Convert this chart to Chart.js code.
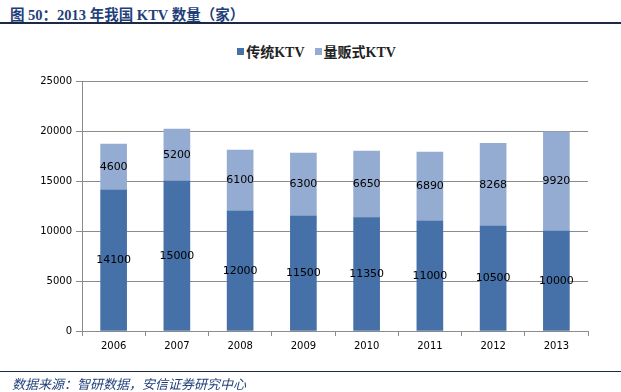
<!DOCTYPE html>
<html>
<head>
<meta charset="utf-8">
<script src="https://cdn.jsdelivr.net/npm/chart.js@4/dist/chart.umd.min.js"></script>
<style>
  html, body { margin: 0; padding: 0; background: #fff; }
  #wrap { position: relative; width: 621px; height: 392px; overflow: hidden; }
  #title { position: absolute; left: 10px; top: 3px; font: bold 14.5px "Liberation Serif", "Noto Sans CJK SC", serif; color: #1F3F7A; white-space: nowrap; }
  .rule { position: absolute; left: 0; width: 621px; height: 2px; background: #1B2A44; }
  #legend { position: absolute; top: 41px; left: 6px; width: 621px; text-align: center; font: bold 14px "Liberation Serif", "Noto Sans CJK SC", serif; color: #222; }
  #legend span.item { display: inline-block; margin: 0 5px; }
  #legend i { display: inline-block; width: 7px; height: 7px; margin-right: 2px; vertical-align: 2px; }
  #source { position: absolute; left: 12px; top: 374px; font: italic 13px "Liberation Serif", "Noto Sans CJK SC", serif; color: #1F3F7A; white-space: nowrap; }
  canvas { position: absolute; left: 0; top: 0; }
</style>
</head>
<body>
<div id="wrap">
  <div id="title">图 50：2013 年我国 KTV 数量（家）</div>
  <div class="rule" style="top:22px"></div>
  <div id="legend"></div>
  <canvas id="chart" width="621" height="392"></canvas>
  <div class="rule" style="top:371px;height:1px"></div>
  <div id="source">数据来源：智研数据，安信证券研究中心</div>
</div>
<script>
// categories and series
const years = ['2006', '2007', '2008', '2009', '2010', '2011', '2012', '2013'];
const traditional = [14100, 15000, 12000, 11500, 11350, 11000, 10500, 10000];
const volumeStore = [4600, 5200, 6100, 6300, 6650, 6890, 8268, 9920];
const seriesNames = ['传统KTV', '量贩式KTV'];
const seriesColors = ['#4570A8', '#95ACD2'];
const yTicks = [0, 5000, 10000, 15000, 20000, 25000];

// legend in html
document.getElementById('legend').innerHTML = seriesNames.map((n, i) =>
    `<span class="item"><i style="background:${seriesColors[i]}"></i>${n}</span>`).join('');

// labels in the middle of each segment
const segmentLabels = {
    id: 'segmentLabels',
    afterDatasetsDraw(chart) {
        const ctx = chart.ctx;
        ctx.save();
        ctx.font = '11px "DejaVu Sans", sans-serif';
        ctx.fillStyle = '#000';
        ctx.textAlign = 'center';
        ctx.textBaseline = 'middle';
        chart.data.datasets.forEach((ds, di) => {
            chart.getDatasetMeta(di).data.forEach((bar, i) => {
                const p = bar.getProps(['x', 'y', 'base'], true);
                ctx.fillText(String(ds.data[i]), p.x, (p.y + p.base) / 2);
            });
        });
        ctx.restore();
    }
};

const axisGrey = '#8C8C8C';

new Chart(document.getElementById('chart').getContext('2d'), {
    type: 'bar',
    data: {
        labels: years,
        datasets: [
            { label: seriesNames[0], data: traditional, backgroundColor: seriesColors[0], barThickness: 26 },
            { label: seriesNames[1], data: volumeStore, backgroundColor: seriesColors[1], barThickness: 26 }
        ]
    },
    options: {
        responsive: false,
        animation: false,
        layout: { padding: { top: 81, right: 33, left: 0, bottom: 0 } },
        scales: {
            x: {
                stacked: true,
                afterFit: s => { s.height = 61; },
                grid: { drawOnChartArea: false, drawTicks: true, offset: true, tickLength: 5, color: axisGrey },
                border: { color: axisGrey },
                ticks: { color: '#000', padding: 4, font: { family: '"DejaVu Sans", sans-serif', size: 10 } }
            },
            y: {
                stacked: true,
                min: 0, max: 25000,
                afterFit: s => { s.width = 82; },
                afterBuildTicks: s => { s.ticks = yTicks.map(v => ({ value: v })); },
                grid: { color: axisGrey, tickLength: 6 },
                border: { color: axisGrey },
                ticks: {
                    color: '#000', padding: 4,
                    font: { family: '"DejaVu Sans", sans-serif', size: 10 },
                    callback: v => String(v)
                }
            }
        },
        plugins: {
            legend: { display: false },
            tooltip: { enabled: false }
        }
    },
    plugins: [segmentLabels]
});
</script>
</body>
</html>
